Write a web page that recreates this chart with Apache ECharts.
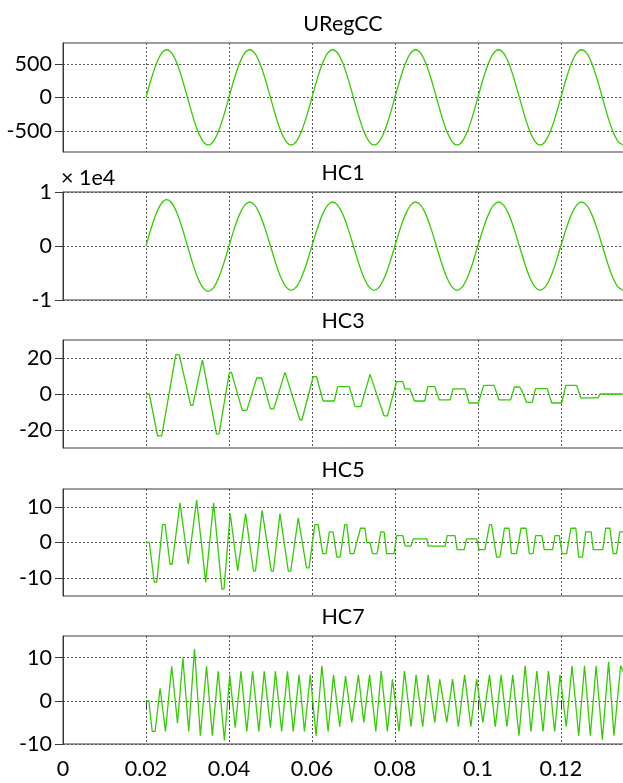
<!DOCTYPE html>
<html><head><meta charset="utf-8">
<script src="https://cdn.jsdelivr.net/npm/echarts@6/dist/echarts.min.js"></script>
<style>html,body{margin:0;padding:0;background:#fff}#c{width:623px;height:783px}</style>
</head><body><div id="c"></div><script>
// ---------- data ----------
const panelTitles = ['URegCC', 'HC1', 'HC3', 'HC5', 'HC7'];
const xTickValues = [0, 0.02, 0.04, 0.06, 0.08, 0.1, 0.12];
const yTickValues = [[-500, 0, 500], [-10000, 0, 10000], [-20, 0, 20], [-10, 0, 10], [-10, 0, 10]];
const yRanges = [[-810, 810], [-10000, 10000], [-30, 30], [-15, 15], [-10, 15]];
const hc1ScaleLabel = '× 1e4';

const sineTimes = [
  0.02, 0.02125, 0.0225, 0.02375, 0.025, 0.02625, 0.0275, 0.02875, 0.03, 0.03125, 0.0325, 0.03375, 0.035, 0.03625, 0.0375, 0.03875,
  0.04, 0.04125, 0.0425, 0.04375, 0.045, 0.04625, 0.0475, 0.04875, 0.05, 0.05125, 0.0525, 0.05375, 0.055, 0.05625, 0.0575, 0.05875,
  0.06, 0.06125, 0.0625, 0.06375, 0.065, 0.06625, 0.0675, 0.06875, 0.07, 0.07125, 0.0725, 0.07375, 0.075, 0.07625, 0.0775, 0.07875,
  0.08, 0.08125, 0.0825, 0.08375, 0.085, 0.08625, 0.0875, 0.08875, 0.09, 0.09125, 0.0925, 0.09375, 0.095, 0.09625, 0.0975, 0.09875,
  0.1, 0.10125, 0.1025, 0.10375, 0.105, 0.10625, 0.1075, 0.10875, 0.11, 0.11125, 0.1125, 0.11375, 0.115, 0.11625, 0.1175, 0.11875,
  0.12, 0.12125, 0.1225, 0.12375, 0.125, 0.12625, 0.1275, 0.12875, 0.13, 0.13125, 0.1325, 0.13375, 0.135
];
const uregccValues = [
  0, 272, 502, 656, 710, 656, 502, 272, 0, -270, -499, -651, -705, -651, -499, -270,
  0, 272, 502, 656, 710, 656, 502, 272, 0, -270, -499, -651, -705, -651, -499, -270,
  0, 272, 502, 656, 710, 656, 502, 272, 0, -270, -499, -651, -705, -651, -499, -270,
  0, 272, 502, 656, 710, 656, 502, 272, 0, -270, -499, -651, -705, -651, -499, -270,
  0, 272, 502, 656, 710, 656, 502, 272, 0, -270, -499, -651, -705, -651, -499, -270,
  0, 272, 502, 656, 710, 656, 502, 272, 0, -270, -499, -651, -705
];
const hc1Values = [
  0, 3280, 6060, 7918, 8570, 7918, 6060, 3280, 0, -3215, -5940, -7761, -8400, -7761, -5940, -3215,
  0, 3119, 5763, 7530, 8150, 7530, 5763, 3119, 0, -3138, -5798, -7576, -8200, -7576, -5798, -3138,
  0, 3119, 5763, 7530, 8150, 7530, 5763, 3119, 0, -3138, -5798, -7576, -8200, -7576, -5798, -3138,
  0, 3119, 5763, 7530, 8150, 7530, 5763, 3119, 0, -3138, -5798, -7576, -8200, -7576, -5798, -3138,
  0, 3119, 5763, 7530, 8150, 7530, 5763, 3119, 0, -3138, -5798, -7576, -8200, -7576, -5798, -3138,
  0, 3119, 5763, 7530, 8150, 7530, 5763, 3119, 0, -3138, -5798, -7576, -8200
];
const hc3Points = [
  [0.02,0],[0.0208,0],[0.0228,-23.3],[0.0238,-23.3],[0.0272,21.9],[0.028,21.9],[0.0294,7.8],[0.0308,-6.3],[0.0313,-6.3],
  [0.0336,18.9],[0.034,18.9],[0.037,-22.2],[0.0376,-22.2],[0.0401,12],[0.0406,12],[0.0432,-9.1],[0.0443,-9.1],
  [0.0467,8.9],[0.0479,8.9],[0.05,-8.3],[0.0508,-8.3],[0.0535,12],[0.0539,12],[0.0571,-14.3],[0.0576,-14.3],
  [0.0603,9.6],[0.0611,9.6],[0.0627,-3.9],[0.0654,-3.9],[0.0662,4.1],[0.069,4.1],[0.0704,-7],[0.0718,-7],
  [0.074,10.9],[0.0774,-12.2],[0.0782,-12.2],[0.0804,6.9],[0.0819,6.9],[0.0824,2.8],[0.0836,2.8],[0.0847,-3.9],[0.0872,-3.9],
  [0.0879,4.1],[0.0896,4.1],[0.0907,-3.3],[0.0933,-3.3],[0.094,2.8],[0.0969,2.8],[0.0979,-5],[0.1001,-5],
  [0.1014,4.8],[0.1039,4.8],[0.1051,-3.3],[0.1079,-3.3],[0.1088,3.9],[0.11,3.9],[0.1106,2],[0.1117,-4.6],[0.1131,-4.6],
  [0.1139,3],[0.1167,3],[0.1178,-5],[0.1202,-5],[0.1212,4.8],[0.1238,4.8],[0.1248,-2.2],[0.129,-2.2],[0.1294,0],[0.136,0]
];
const hc5Points = [
  [0.02,0],[0.0208,0],[0.022,-11.1],[0.0226,-11.1],[0.024,5],[0.0246,5],[0.0258,-6.1],[0.0263,-6.1],[0.0282,11.1],[0.0286,11.1],
  [0.0302,-6.1],[0.0306,-6.1],[0.0322,11.9],[0.0326,11.9],[0.0344,-11.1],[0.0348,-11.1],[0.0363,11.1],[0.0367,11.1],
  [0.0383,-13.1],[0.0388,-13.1],[0.0403,8.1],[0.0407,8.1],[0.0421,-8],[0.0425,-8],[0.044,8.1],[0.0444,8.1],
  [0.0459,-8],[0.0464,-8],[0.048,9],[0.0483,9],[0.0502,-8],[0.0507,-8],[0.0523,8.1],[0.0527,8.1],[0.0543,-8],[0.0549,-8],
  [0.0567,6.9],[0.0571,6.9],[0.0587,-7.1],[0.0593,-7.1],[0.0607,5],[0.0615,5],[0.0626,-3.1],[0.0634,-3.1],[0.0642,3],[0.0651,3],
  [0.066,-4.1],[0.0668,-4.1],[0.0679,5],[0.0684,5],[0.0692,-3.1],[0.0701,-3.1],[0.0717,4],[0.0728,4],[0.0732,0],[0.074,0],
  [0.0746,-3.1],[0.0757,-3.1],[0.0766,3],[0.0774,3],[0.078,-3.1],[0.0798,-3.1],[0.0804,1.9],[0.0819,1.9],[0.0825,-1],[0.0839,-1],
  [0.0844,1],[0.0877,1],[0.088,-1],[0.0921,-1],[0.0926,1.9],[0.0945,1.9],[0.095,-2],[0.0967,-2],[0.0973,1],[0.0997,1],
  [0.1003,-2],[0.1017,-2],[0.1028,5],[0.1033,5],[0.1045,-4.1],[0.1053,-4.1],[0.1064,4],[0.1075,4],[0.1081,-3.1],[0.1093,-3.1],
  [0.1104,4],[0.1116,4],[0.1124,-3.1],[0.1133,-3.1],[0.1139,1.9],[0.1154,1.9],[0.116,-2],[0.118,-2],[0.1186,1.9],[0.1196,1.9],
  [0.1203,-3.1],[0.1214,-3.1],[0.1224,4],[0.1236,4],[0.1243,-4.1],[0.1252,-4.1],[0.126,3],[0.1273,3],[0.1278,-2],[0.1301,-2],
  [0.1308,4],[0.1318,4],[0.1326,-3.1],[0.1334,-3.1],[0.1342,3],[0.136,3]
];
const hc7Points = [
  [0.02,0],[0.0207,0],[0.0215,-7.1],[0.0222,-7.1],[0.0234,2.9],[0.0247,-7.1],[0.0262,8],[0.0276,-5.2],[0.0289,9.9],[0.0303,-7.1],
  [0.0317,12],[0.0331,-8.1],[0.0346,8],[0.036,-8.1],[0.0374,6.8],[0.0389,-9.2],[0.0402,6],[0.0415,-6.2],[0.0429,6.8],[0.0443,-7.1],
  [0.0457,6.8],[0.0472,-7.1],[0.0485,6.8],[0.05,-6.2],[0.0512,6.8],[0.0527,-7.1],[0.0541,6.8],[0.0555,-7.1],[0.0569,6],[0.0582,-7.1],
  [0.0596,6],[0.061,-8.1],[0.0624,8.1],[0.0639,-7.1],[0.0652,6],[0.0667,-6],[0.0681,5.7],[0.0696,-5],[0.0712,6],[0.0725,-5],
  [0.0739,6],[0.0754,-7.1],[0.0767,6.9],[0.0782,-7.1],[0.0794,5],[0.081,-7.1],[0.0823,6.9],[0.0839,-6],[0.0851,6],[0.0867,-6],
  [0.088,6],[0.0896,-5],[0.0908,5],[0.0925,-5],[0.0939,5],[0.0953,-6],[0.0968,6],[0.0983,-6],[0.0997,5],[0.1012,-5],
  [0.1028,6],[0.1042,-6],[0.1056,6],[0.107,-6],[0.1084,6],[0.1099,-8.1],[0.1114,8.1],[0.1128,-7.1],[0.1142,6.9],[0.1157,-7.1],
  [0.117,6.9],[0.1185,-7.1],[0.1198,6],[0.1213,-6],[0.1227,8.1],[0.1243,-8.1],[0.1257,8.1],[0.1271,-8.1],[0.1285,8.1],[0.13,-9],
  [0.1315,9],[0.1328,-8.1],[0.1344,8.1],[0.136,5]
];

// ---------- layout / style ----------
const FONT = 'Lato';
const LINE_COLOR = '#33cc00';
const panels = [
  { top: 43, height: 109 },
  { top: 192, height: 108 },
  { top: 340, height: 108 },
  { top: 489, height: 107 },
  { top: 636, height: 108 }
];
const X_MAX = 0.1357;

const seriesData = [
  sineTimes.map((t, k) => [t, uregccValues[k]]),
  sineTimes.map((t, k) => [t, hc1Values[k]]),
  hc3Points, hc5Points, hc7Points
];

const grids = [], xAxes = [], yAxes = [], series = [], graphics = [];
panels.forEach((p, i) => {
  const last = i === panels.length - 1;
  grids.push({
    left: 63, right: -3, top: p.top, height: p.height,
    show: true, borderColor: '#3a3a3a', borderWidth: 1, backgroundColor: 'transparent',
    containLabel: false, outerBoundsMode: 'none'
  });
  xAxes.push({
    type: 'value', gridIndex: i, min: 0, max: X_MAX,
    axisLine: { show: false },
    axisTick: { show: last, inside: false, length: 9, lineStyle: { color: '#3a3a3a' }, customValues: xTickValues },
    axisLabel: { show: last, customValues: xTickValues, fontFamily: FONT, fontSize: 21.5, color: '#000', margin: 14,
      formatter: v => String(v) },
    splitLine: { show: true, lineStyle: { color: '#555', type: [2, 2], width: 1 } }
  });
  yAxes.push({
    type: 'value', gridIndex: i, min: yRanges[i][0], max: yRanges[i][1],
    axisLine: { show: true, lineStyle: { color: '#3a3a3a' } },
    axisTick: { show: true, inside: false, length: 8, lineStyle: { color: '#3a3a3a' }, customValues: yTickValues[i] },
    axisLabel: { show: true, customValues: yTickValues[i], fontFamily: FONT, fontSize: 21.5, color: '#000', margin: 11,
      formatter: i === 1 ? (v => String(v / 10000)) : (v => String(v)) },
    splitLine: { show: true, lineStyle: { color: '#555', type: [2, 2], width: 1 } }
  });
  series.push({
    type: 'line', xAxisIndex: i, yAxisIndex: i, data: seriesData[i],
    showSymbol: false, symbol: 'none', smooth: i < 2 ? 0.3 : false, clip: true,
    lineStyle: { color: LINE_COLOR, width: 1.3 }
  });
  graphics.push({
    type: 'text', x: 343, y: p.top - 18.5,
    style: { text: panelTitles[i], font: '21.5px ' + FONT, fill: '#000',
      align: 'center', verticalAlign: 'middle', textAlign: 'center', textVerticalAlign: 'middle' }
  });
});
graphics.push({
  type: 'text', x: 61, y: 178,
  style: { text: hc1ScaleLabel, font: '21.5px ' + FONT, fill: '#000',
    align: 'left', verticalAlign: 'middle', textAlign: 'left', textVerticalAlign: 'middle' }
});

const chart = echarts.init(document.getElementById('c'), null, { renderer: 'canvas' });
chart.setOption({
  animation: false,
  backgroundColor: '#fff',
  grid: grids, xAxis: xAxes, yAxis: yAxes, series: series,
  graphic: graphics
});
</script></body></html>
